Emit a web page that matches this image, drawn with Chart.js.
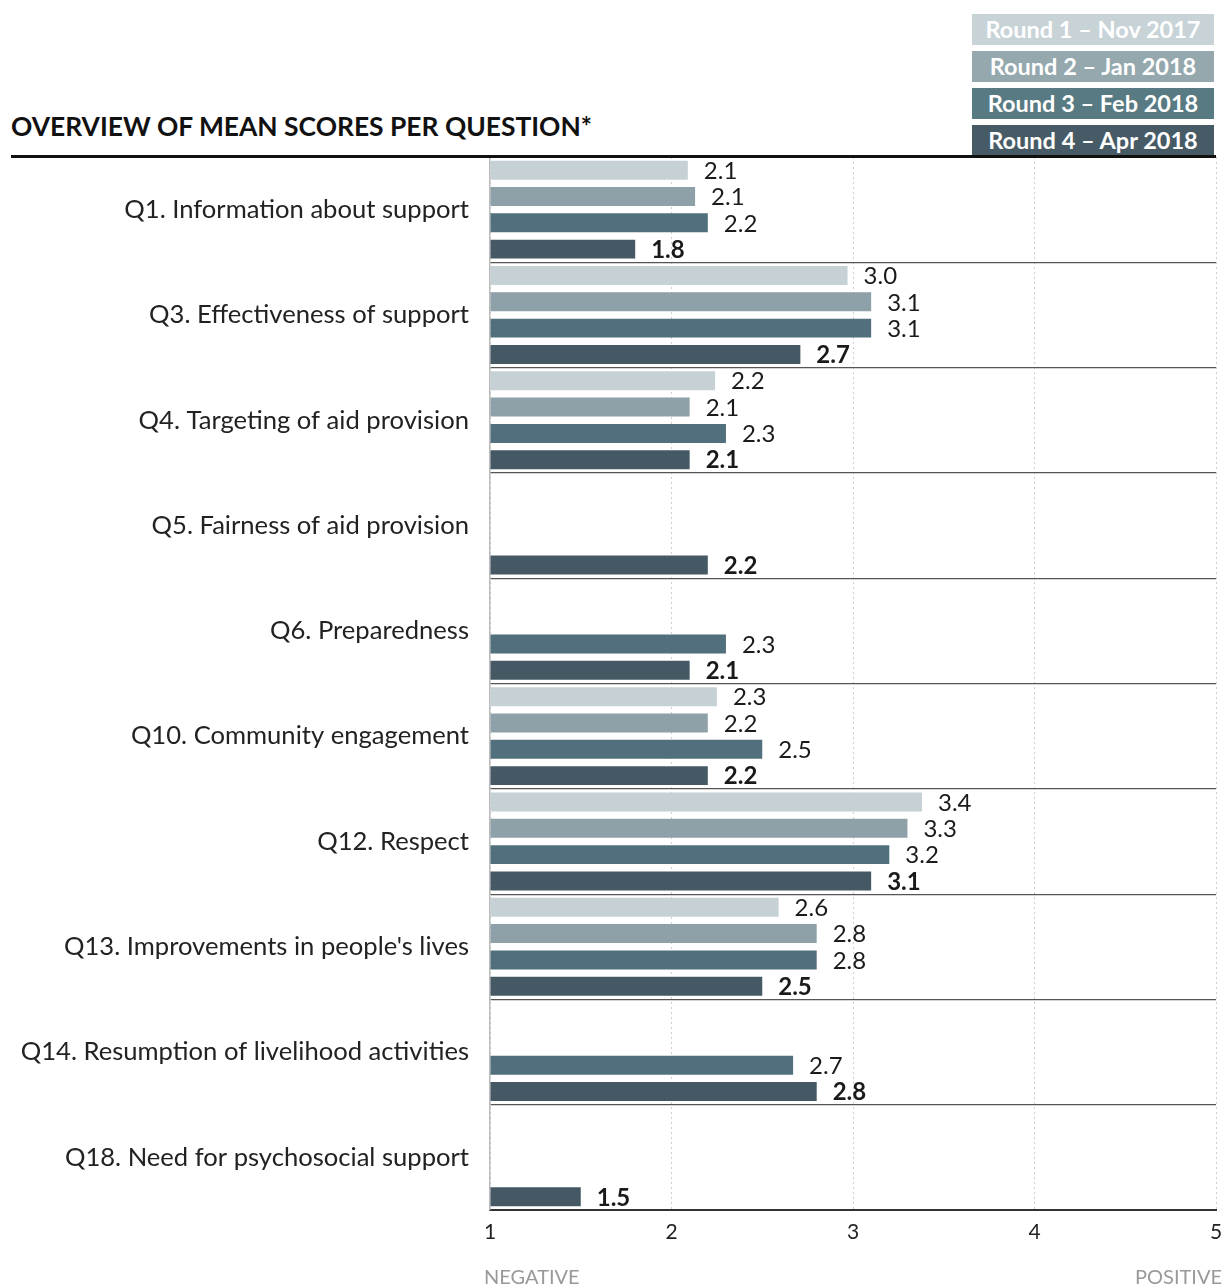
<!DOCTYPE html>
<html>
<head>
<meta charset="utf-8">
<script src="https://cdn.jsdelivr.net/npm/chart.js@4.4.1/dist/chart.umd.min.js"></script>
<style>
  html, body { margin: 0; padding: 0; background: #fff; }
  body { width: 1226px; height: 1288px; position: relative; overflow: hidden; font-family: Lato, "Open Sans", sans-serif; }
  #titulo { position: absolute; left: 11px; top: 110px; font-size: 26.4px; font-weight: 700; color: #111; }
  #linha { position: absolute; left: 11px; top: 155px; width: 1205px; height: 3px; background: #111; }
  #legenda { position: absolute; left: 972px; top: 14px; width: 242px; }
  .leg { height: 31px; margin-bottom: 6px; color: #fff; font-weight: 700; font-size: 23.5px; line-height: 31px; text-align: center; }
  .rodape { position: absolute; top: 1264px; font-size: 20px; color: #999; }
  #wrap { position: absolute; left: 0; top: 0; width: 1226px; height: 1288px; }
</style>
</head>
<body>
<div id="titulo">OVERVIEW OF MEAN SCORES PER QUESTION*</div>
<div id="legenda"></div>
<div id="wrap"><canvas id="grafico" width="1226" height="1288"></canvas></div>
<div id="linha"></div>
<div class="rodape" style="left:484px">NEGATIVE</div>
<div class="rodape" style="right:4px">POSITIVE</div>
<script>
// Dados
const perguntas = [
  'Q1. Information about support',
  'Q3. Effectiveness of support',
  'Q4. Targeting of aid provision',
  'Q5. Fairness of aid provision',
  'Q6. Preparedness',
  'Q10. Community engagement',
  'Q12. Respect',
  "Q13. Improvements in people's lives",
  'Q14. Resumption of livelihood activities',
  'Q18. Need for psychosocial support'
];
const rodadas = ['Round 1 – Nov 2017', 'Round 2 – Jan 2018', 'Round 3 – Feb 2018', 'Round 4 – Apr 2018'];
const round1 = [2.09, 2.97, 2.24, null, null, 2.25, 3.38, 2.59, null, null];
const round2 = [2.13, 3.10, 2.10, null, null, 2.20, 3.30, 2.80, null, null];
const round3 = [2.20, 3.10, 2.30, null, 2.30, 2.50, 3.20, 2.80, 2.67, null];
const round4 = [1.80, 2.71, 2.10, 2.20, 2.10, 2.20, 3.10, 2.50, 2.80, 1.50];
const cores = ['#c6d1d5', '#8ea1a9', '#516f7c', '#445964'];
const coresLegenda = ['#c8d3d7', '#94a8ae', '#587a83', '#465b66'];
const escala = [1, 2, 3, 4, 5];

// Legenda em HTML
const legenda = document.getElementById('legenda');
rodadas.forEach((r, i) => {
  const d = document.createElement('div');
  d.className = 'leg';
  d.style.background = coresLegenda[i];
  d.textContent = r;
  legenda.appendChild(d);
});

// Rótulos de valor ao lado das barras
const rotulos = {
  id: 'rotulos',
  afterDatasetsDraw(chart) {
    const ctx = chart.ctx;
    ctx.save();
    ctx.textBaseline = 'middle';
    ctx.fillStyle = '#1a1a1a';
    chart.data.datasets.forEach((ds, i) => {
      const meta = chart.getDatasetMeta(i);
      ctx.font = (i === 3 ? '700 ' : '400 ') + '24px Lato, "Open Sans", sans-serif';
      meta.data.forEach((bar, j) => {
        const v = ds.data[j];
        if (v == null) return;
        ctx.fillText(v.toFixed(1), bar.x + 16, bar.y + 1);
      });
    });
    ctx.restore();
  }
};

const dados = [round1, round2, round3, round4];

new Chart(document.getElementById('grafico'), {
  type: 'bar',
  data: {
    labels: perguntas,
    datasets: rodadas.map((r, i) => ({
      label: r,
      data: dados[i],
      backgroundColor: cores[i],
      base: 1,
      barPercentage: 0.72,
      categoryPercentage: 1.0
    }))
  },
  options: {
    indexAxis: 'y',
    responsive: false,
    animation: false,
    maintainAspectRatio: false,
    layout: { padding: { top: 157, right: 10, left: 0, bottom: 0 } },
    plugins: { legend: { display: false }, tooltip: { enabled: false } },
    scales: {
      x: {
        min: 1, max: 5,
        afterBuildTicks: s => { s.ticks = escala.map(v => ({ value: v })); },
        afterFit: s => { s.height = 78; s.paddingRight = 0; },
        grid: { color: '#cfcfcf', lineWidth: 1, drawTicks: false },
        border: { color: '#333', width: 2, dash: [2, 3] },
        ticks: { color: '#222', font: { size: 21, family: 'Lato' }, padding: 10 }
      },
      y: {
        afterFit: s => { s.width = 490; },
        grid: { color: '#555', lineWidth: 1.2, offset: true, drawTicks: false },
        border: { color: '#bbb', width: 1.5 },
        ticks: { color: '#222', font: { size: 25.6, family: 'Lato' }, padding: 21 }
      }
    }
  },
  plugins: [rotulos]
});
</script>
</body>
</html>
